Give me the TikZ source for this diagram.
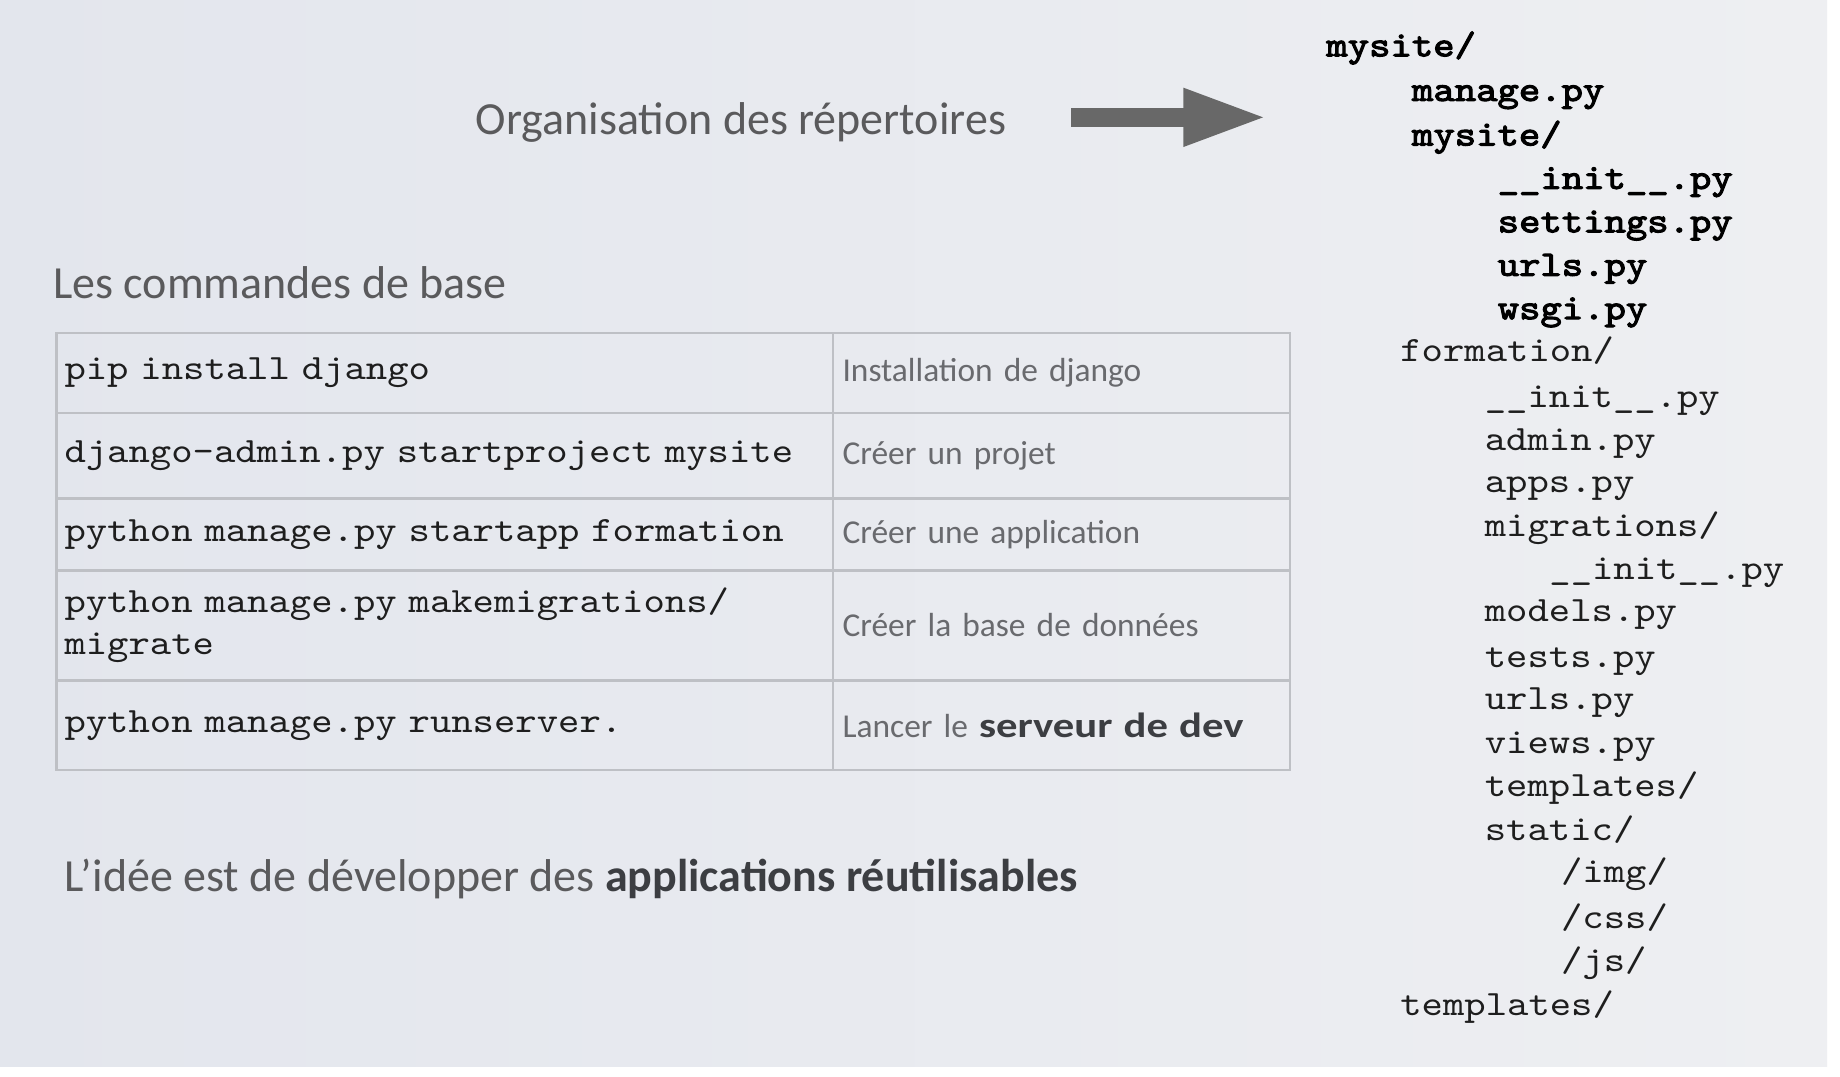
\documentclass[tikz,border=0pt]{standalone}
\usepackage{fontspec}
\setmainfont{Carlito}
\newfontfamily\monof{lmmono10-regular.otf}[FakeStretch=1.143]
\newfontfamily\monobf{lmmono10-regular.otf}[FakeStretch=1.143, FakeBold=3]
\newfontfamily\widebold{Carlito}[FakeStretch=1.22]
\usetikzlibrary{arrows.meta}
\definecolor{bgl}{RGB}{227,230,237}
\definecolor{bgr}{RGB}{238,239,242}
\definecolor{titlegray}{RGB}{90,90,92}
\definecolor{descgray}{RGB}{105,106,110}
\definecolor{boldgray}{RGB}{60,62,66}
\definecolor{tbl}{RGB}{190,192,197}
\definecolor{arrowgray}{RGB}{104,104,104}
\definecolor{monotext}{RGB}{30,30,30}
\begin{document}
\begin{tikzpicture}[x=0.5868pt,y=-0.5868pt,
  heading/.style={anchor=base west, inner sep=0pt, font=\fontsize{23}{27}\selectfont, text=titlegray},
  monotxt/.style={anchor=base west, inner sep=0pt, font=\monof\fontsize{17.8}{21}\selectfont, text=monotext},
  monobold/.style={anchor=base west, inner sep=0pt, font=\monobf\fontsize{17.8}{21}\selectfont, text=black},
  cellA/.style={draw=tbl, line width=1.2pt, anchor=north west, outer sep=0pt,
     text width=380.3pt, inner xsep=4.1pt, inner ysep=0pt, align=left,
     font=\monof\fontsize{17.8}{21.1}\selectfont, text=monotext},
  cellB/.style={draw=tbl, line width=1.2pt, anchor=north west, outer sep=0pt,
     text width=218.9pt, inner xsep=4.7pt, inner ysep=0pt, align=left,
     font=\fontsize{16.7}{20}\selectfont, text=descgray},
  blockarrow/.style={line width=9.4pt, draw=arrowgray, -{Triangle[length=42pt,width=26.5pt]}}
]
\useasboundingbox (0,0) rectangle (1568,917);
\fill[white] (0,0) rectangle (1568,917);
\shade[left color=bgl, right color=bgr] (0,0) rectangle (1557,909);

% title and arrow
\node[heading] (ttl) at (405,115) {Organisation des répertoires};
\coordinate (aS) at (913,100);
\coordinate (aE) at (1080,100);
\draw[blockarrow] (aS) -- (aE);

\node[heading] (cmd) at (45,254) {Les commandes de base};

% table
\node[cellA, minimum height=39.9pt] (r1a) at (48,284) {pip install django};
\node[cellB, minimum height=39.9pt] (r1b) at (710,284) {Installation de django};
\node[cellA, minimum height=42.8pt] (r2a) at (48,352) {django-admin.py startproject mysite};
\node[cellB, minimum height=42.8pt] (r2b) at (710,352) {Créer un projet};
\node[cellA, minimum height=35.8pt] (r3a) at (48,425) {python manage.py startapp formation};
\node[cellB, minimum height=35.8pt] (r3b) at (710,425) {Créer une application};
\node[cellA, minimum height=55.2pt] (r4a) at (48,486) {python manage.py makemigrations/\\migrate};
\node[cellB, minimum height=55.2pt] (r4b) at (710,486) {Créer la base de données};
\node[cellA, minimum height=44.6pt] (r5a) at (48,580) {python manage.py runserver.};
\node[cellB, minimum height=44.6pt] (r5b) at (710,580) {Lancer le {\widebold\bfseries\fontsize{17.5}{20}\selectfont\color{boldgray}serveur de dev}};

% bottom sentence
\node[heading] (idea) at (55,760) {L’idée est de développer des \textbf{\color{boldgray}applications réutilisables}};

% directory tree
\node[monobold] (t1) at (1130,48) {mysite/};
\node[monobold] (t2) at (1203,86) {manage.py};
\node[monobold] (t3) at (1203,124) {mysite/};
\node[monobold] (t4) at (1276,161) {\_\_init\_\_.py};
\node[monobold] (t5) at (1276,198) {settings.py};
\node[monobold] (t6) at (1276,235) {urls.py};
\node[monobold] (t7) at (1276,272) {wsgi.py};
\node[monotxt] (t8) at (1193,308) {formation/};
\node[monotxt] (t9) at (1265,347) {\_\_init\_\_.py};
\node[monotxt] (t10) at (1265,384) {admin.py};
\node[monotxt] (t11) at (1265,420) {apps.py};
\node[monotxt] (t12) at (1265,457) {migrations/};
\node[monotxt] (t13) at (1320,494) {\_\_init\_\_.py};
\node[monotxt] (t14) at (1265,530) {models.py};
\node[monotxt] (t15) at (1265,569) {tests.py};
\node[monotxt] (t16) at (1265,605) {urls.py};
\node[monotxt] (t17) at (1265,642) {views.py};
\node[monotxt] (t18) at (1265,679) {templates/};
\node[monotxt] (t19) at (1265,716) {static/};
\node[monotxt] (t20) at (1330,752) {/img/};
\node[monotxt] (t21) at (1330,791) {/css/};
\node[monotxt] (t22) at (1330,828) {/js/};
\node[monotxt] (t23) at (1193,865) {templates/};
\end{tikzpicture}
\end{document}
